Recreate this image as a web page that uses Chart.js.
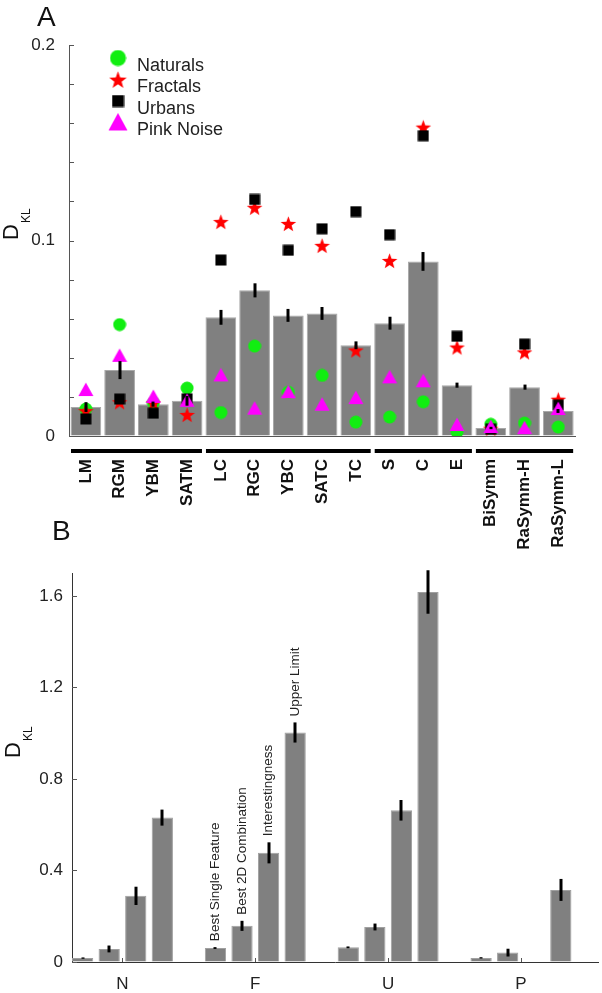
<!DOCTYPE html>
<html>
<head>
<meta charset="utf-8">
<title>DKL by feature and model</title>
<script src="https://cdn.jsdelivr.net/npm/chart.js@4.4.1/dist/chart.umd.min.js"></script>
<style>
  body { margin: 0; background: #fff; }
  #wrap { position: relative; width: 602px; height: 993px; }
  #chartA { position: absolute; left: 0; top: 0; }
  #chartB { position: absolute; left: 0; top: 500px; }
</style>
</head>
<body>
<div id="wrap">
  <canvas id="chartA" width="602" height="580"></canvas>
  <canvas id="chartB" width="602" height="493"></canvas>
</div>
<script>
// ---- Panel A data ----
const featureLabels = ['LM', 'RGM', 'YBM', 'SATM', 'LC', 'RGC', 'YBC', 'SATC', 'TC', 'S', 'C', 'E', 'BiSymm', 'RaSymm-H', 'RaSymm-L'];
const featureGroups = [[0, 3], [4, 8], [9, 11], [12, 14]]; // index ranges underlined by black bars
const meanDkl = [0.0148, 0.0337, 0.0163, 0.018, 0.0607, 0.0745, 0.0617, 0.0627, 0.0464, 0.0577, 0.0893, 0.026, 0.0041, 0.025, 0.0128];
const meanErr = [0.0025, 0.0046, 0.0013, 0.0025, 0.0038, 0.0036, 0.0033, 0.0033, 0.002, 0.0033, 0.0048, 0.0013, 0.0006, 0.0013, 0.001];
const naturals = [0.0138, 0.057, 0.017, 0.0245, 0.012, 0.046, 0.0224, 0.031, 0.0071, 0.0097, 0.0175, 0.002, 0.006, 0.0066, 0.0046];
const fractals = [0.013, 0.0175, 0.017, 0.011, 0.1097, 0.117, 0.1087, 0.0975, 0.044, 0.0898, 0.158, 0.0455, 0.004, 0.043, 0.0188];
const urbans = [0.0087, 0.0189, 0.0117, 0.019, 0.090, 0.121, 0.095, 0.106, 0.1148, 0.103, 0.1536, 0.051, 0.0035, 0.047, 0.0158];
const pinkNoise = [0.0235, 0.041, 0.02, 0.018, 0.031, 0.014, 0.0224, 0.016, 0.0194, 0.030, 0.028, 0.0056, 0.0046, 0.004, 0.0138];
const yTicksA = [0, 0.1, 0.2];

// ---- Panel B data ----
const groupLabels = ['N', 'F', 'U', 'P'];
const groupPos = [1, 2, 3, 4];
const bestSingle = [0.017, 0.061, 0.064, 0.018];
const bestSingleErr = [0.003, 0.004, 0.004, 0.003];
const best2D = [0.057, 0.158, 0.153, 0.041];
const best2DErr = [0.015, 0.022, 0.015, 0.017];
const interestingness = [0.289, 0.477, 0.663, null];
const interestingnessErr = [0.04, 0.046, 0.045, 0];
const upperLimit = [0.631, 1.003, 1.617, 0.315];
const upperLimitErr = [0.035, 0.044, 0.095, 0.048];

Chart.defaults.font.family = "'Liberation Sans', Arial, sans-serif";
Chart.defaults.color = '#222';

const BAR_GRAY = '#808080';
const AXIS_GRAY = '#555';

// marker images used as point styles
function makeMarker(shape, size, color) {
  const c = document.createElement('canvas');
  c.width = size; c.height = size;
  const g = c.getContext('2d');
  const m = size / 2;
  g.fillStyle = color;
  g.beginPath();
  if (shape === 'circle') {
    g.arc(m, m, m - 0.5, 0, Math.PI * 2);
  } else if (shape === 'square') {
    g.rect(0.5, 0.5, size - 1, size - 1);
  } else if (shape === 'triangle') {
    g.moveTo(m, 0.5);
    g.lineTo(size - 0.5, size - 2);
    g.lineTo(0.5, size - 2);
  } else if (shape === 'star') {
    for (let k = 0; k < 10; k++) {
      const r = k % 2 ? m * 0.4 : m - 0.3;
      const a = -Math.PI / 2 + k * Math.PI / 5;
      const px = m + r * Math.cos(a), py = m + 1 + r * Math.sin(a);
      if (k === 0) g.moveTo(px, py); else g.lineTo(px, py);
    }
  }
  g.closePath();
  g.fill();
  return c;
}

const GREEN = '#11ee11', RED = '#ff0000', BLACK = '#000000', MAGENTA = '#ff00ff';

function val(v) { return (v !== null && typeof v === 'object') ? v.y : v; }

// vertical error bars on every dataset that has an "errors" array
const errorBars = {
  id: 'errorBars',
  afterDatasetsDraw(chart) {
    const ctx = chart.ctx, ys = chart.scales.y;
    ctx.save();
    ctx.strokeStyle = '#000';
    ctx.lineWidth = 3;
    ctx.lineCap = 'butt';
    chart.data.datasets.forEach((ds, di) => {
      if (!ds.errors) return;
      const meta = chart.getDatasetMeta(di);
      meta.data.forEach((bar, i) => {
        const v = val(ds.data[i]);
        if (v == null || !ds.errors[i]) return;
        const e = ds.errors[i];
        const x = Math.round(bar.x);
        ctx.beginPath();
        ctx.moveTo(x, ys.getPixelForValue(Math.max(0, v - e)));
        ctx.lineTo(x, ys.getPixelForValue(v + e));
        ctx.stroke();
      });
    });
    ctx.restore();
  }
};

// MATLAB-style ticks pointing into the plot
const innerTicks = {
  id: 'innerTicks',
  afterDraw(chart, args, opts) {
    const ctx = chart.ctx, area = chart.chartArea;
    const ys = chart.scales.y, xs = chart.scales.x;
    ctx.save();
    ctx.strokeStyle = AXIS_GRAY;
    ctx.lineWidth = 1;
    ys.ticks.forEach(t => {
      const py = Math.round(ys.getPixelForValue(t.value)) + 0.5;
      ctx.beginPath();
      ctx.moveTo(area.left, py);
      ctx.lineTo(area.left + 5, py);
      ctx.stroke();
    });
    if (opts.xTicks) {
      xs.ticks.forEach(t => {
        const px = Math.round(xs.getPixelForValue(t.value)) + 0.5;
        ctx.beginPath();
        ctx.moveTo(px, area.bottom);
        ctx.lineTo(px, area.bottom - 4);
        ctx.stroke();
      });
    }
    ctx.restore();
  }
};

// y axis title D with subscript KL, plus panel letter
const panelText = {
  id: 'panelText',
  afterDraw(chart, args, opts) {
    const ctx = chart.ctx;
    ctx.save();
    ctx.fillStyle = '#111';
    ctx.font = "28px 'Liberation Sans', Arial, sans-serif";
    ctx.textBaseline = 'alphabetic';
    ctx.fillText(opts.letter, opts.letterX, opts.letterY);
    ctx.translate(opts.titleX, opts.titleY);
    ctx.rotate(-Math.PI / 2);
    ctx.font = "22px 'Liberation Sans', Arial, sans-serif";
    ctx.fillText('D', 0, 0);
    const w = ctx.measureText('D').width;
    ctx.font = "12px 'Liberation Sans', Arial, sans-serif";
    ctx.fillText('KL', w + 1, 12);
    ctx.restore();
  }
};

// ---- Panel A ----
const markerSeries = [
  { label: 'Naturals', data: naturals, shape: 'circle', color: GREEN, size: 14, legSize: 17, order: 4 },
  { label: 'Fractals', data: fractals, shape: 'star', color: RED, size: 17, legSize: 19, order: 3 },
  { label: 'Urbans', data: urbans, shape: 'square', color: BLACK, size: 12, legSize: 13, order: 2 },
  { label: 'Pink Noise', data: pinkNoise, shape: 'triangle', color: MAGENTA, size: 16, legSize: 20, order: 1 }
];

const groupLines = {
  id: 'groupLines',
  afterDraw(chart) {
    const ctx = chart.ctx, xs = chart.scales.x;
    const half = (xs.getPixelForValue(1) - xs.getPixelForValue(0)) / 2;
    const y = chart.chartArea.bottom + 15;
    ctx.save();
    ctx.strokeStyle = '#000';
    ctx.lineWidth = 4;
    featureGroups.forEach(([a, b]) => {
      ctx.beginPath();
      ctx.moveTo(xs.getPixelForValue(a) - half + 2, y);
      ctx.lineTo(xs.getPixelForValue(b) + half - 2, y);
      ctx.stroke();
    });
    ctx.restore();
  }
};

const markerLegend = {
  id: 'markerLegend',
  afterDraw(chart) {
    const ctx = chart.ctx;
    ctx.save();
    ctx.font = "18px 'Liberation Sans', Arial, sans-serif";
    ctx.fillStyle = '#222';
    ctx.textBaseline = 'middle';
    markerSeries.forEach((s, i) => {
      const my = 58 + 21.5 * i;
      const img = makeMarker(s.shape, s.legSize, s.color);
      ctx.drawImage(img, 118 - s.legSize / 2, my - s.legSize / 2);
      ctx.fillText(s.label, 137, my + 8);
    });
    ctx.restore();
  }
};

new Chart(document.getElementById('chartA'), {
  type: 'bar',
  data: {
    labels: featureLabels,
    datasets: [
      {
        type: 'bar',
        label: 'Mean',
        data: meanDkl,
        errors: meanErr,
        backgroundColor: BAR_GRAY,
        borderColor: '#a8a8a8',
        borderWidth: 1,
        barPercentage: 0.91,
        categoryPercentage: 1.0,
        order: 5
      },
      ...markerSeries.map(s => ({
        type: 'line',
        label: s.label,
        data: s.data,
        showLine: false,
        pointStyle: makeMarker(s.shape, s.size, s.color),
        pointRadius: s.size / 2,
        order: s.order
      }))
    ]
  },
  options: {
    responsive: false,
    animation: false,
    events: [],
    layout: { padding: { top: 45, right: 4, left: 0, bottom: 0 } },
    plugins: {
      legend: { display: false },
      tooltip: { enabled: false },
      innerTicks: { xTicks: false },
      panelText: { letter: 'A', letterX: 37, letterY: 26, titleX: 18, titleY: 240 }
    },
    scales: {
      x: {
        type: 'category',
        offset: true,
        grid: { display: true, drawOnChartArea: false, drawTicks: false },
        border: { display: true, color: AXIS_GRAY, width: 1 },
        ticks: {
          autoSkip: false,
          minRotation: 90,
          maxRotation: 90,
          padding: 23,
          color: '#111',
          font: { size: 17, weight: 'bold' }
        },
        afterFit(s) { s.height = 144; }
      },
      y: {
        min: 0,
        max: 0.2,
        grid: { display: true, drawOnChartArea: false, drawTicks: false },
        border: { display: true, color: AXIS_GRAY, width: 1 },
        ticks: {
          stepSize: 0.02,
          autoSkip: false,
          padding: 14,
          font: { size: 17 },
          callback: v => {
            const hit = yTicksA.find(t => Math.abs(t - v) < 1e-6);
            return hit === undefined ? '' : String(hit);
          }
        },
        afterFit(s) { s.width = 69; }
      }
    }
  },
  plugins: [errorBars, innerTicks, panelText, groupLines, markerLegend]
});

// ---- Panel B ----
const modelSeries = [
  { label: 'Best Single Feature', values: bestSingle, errors: bestSingleErr },
  { label: 'Best 2D Combination', values: best2D, errors: best2DErr },
  { label: 'Interestingness', values: interestingness, errors: interestingnessErr },
  { label: 'Upper Limit', values: upperLimit, errors: upperLimitErr }
];
const annotatedGroup = 1; // model names written above group F

const modelNames = {
  id: 'modelNames',
  afterDatasetsDraw(chart) {
    const ctx = chart.ctx, ys = chart.scales.y;
    ctx.save();
    ctx.font = "13.5px 'Liberation Sans', Arial, sans-serif";
    ctx.fillStyle = '#222';
    ctx.textAlign = 'left';
    ctx.textBaseline = 'middle';
    chart.data.datasets.forEach((ds, di) => {
      const bar = chart.getDatasetMeta(di).data[annotatedGroup];
      const v = val(ds.data[annotatedGroup]);
      const y = ys.getPixelForValue(v + ds.errors[annotatedGroup]) - 6;
      ctx.save();
      ctx.translate(bar.x, y);
      ctx.rotate(-Math.PI / 2);
      ctx.fillText(ds.label, 0, 0);
      ctx.restore();
    });
    ctx.restore();
  }
};

new Chart(document.getElementById('chartB'), {
  type: 'bar',
  data: {
    datasets: modelSeries.map(s => ({
      label: s.label,
      data: s.values.map((v, i) => ({ x: groupPos[i], y: v })),
      errors: s.errors,
      backgroundColor: BAR_GRAY,
      borderColor: '#a0a0a0',
      borderWidth: 1,
      barPercentage: 0.8,
      categoryPercentage: 0.8
    }))
  },
  options: {
    responsive: false,
    animation: false,
    events: [],
    layout: { padding: { top: 73, right: 4, left: 0, bottom: 0 } },
    plugins: {
      legend: { display: false },
      tooltip: { enabled: false },
      innerTicks: { xTicks: true },
      panelText: { letter: 'B', letterX: 52, letterY: 40, titleX: 20, titleY: 258 }
    },
    scales: {
      x: {
        type: 'linear',
        min: 0.62,
        max: 4.58,
        offset: false,
        grid: { display: true, drawOnChartArea: false, drawTicks: false },
        border: { display: true, color: '#333', width: 1 },
        afterBuildTicks(s) { s.ticks = groupPos.map(v => ({ value: v })); },
        ticks: {
          autoSkip: false,
          maxRotation: 0,
          padding: 12,
          font: { size: 17 },
          callback: (v, i) => groupLabels[i]
        },
        afterFit(s) { s.height = 31; }
      },
      y: {
        min: 0,
        max: 1.7,
        grid: { display: true, drawOnChartArea: false, drawTicks: false },
        border: { display: true, color: '#333', width: 1 },
        ticks: {
          stepSize: 0.4,
          includeBounds: false,
          autoSkip: false,
          padding: 9,
          font: { size: 17 },
          callback: v => (Math.round(v * 10) / 10).toString()
        },
        afterFit(s) { s.width = 72; }
      }
    }
  },
  plugins: [errorBars, innerTicks, panelText, modelNames]
});
</script>
</body>
</html>
